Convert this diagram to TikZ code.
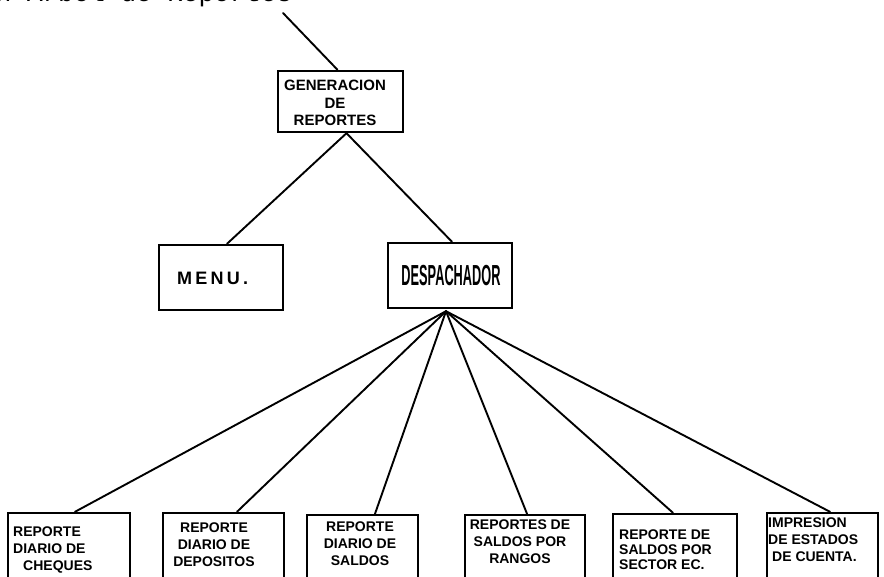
\documentclass[tikz,border=0pt]{standalone}
\usepackage{fontspec}
\usepackage{graphicx}
\setmainfont{Liberation Sans}
\newfontfamily\typedfont{Liberation Mono}

\begin{document}
\begin{tikzpicture}[x=1pt,y=-1pt,
  box/.style={draw, line width=2.4pt, rectangle, inner sep=0pt},
  wire/.style={line width=1.9pt, line cap=round},
  lbl/.style={inner sep=0pt, font=\bfseries\fontsize{14}{17}\selectfont},
  toplbl/.style={inner sep=0pt, font=\bfseries\fontsize{15}{17.5}\selectfont},
]
\useasboundingbox (0,0) rectangle (884,576);

% typed heading line, only its lower edge lies on the sheet
\node[inner sep=0pt, anchor=base west, font=\typedfont\fontsize{26}{26}\selectfont]
  (heading) at (-20,1) {ón Arbol de Reportes};

% boxes
\node[box, minimum width=125pt, minimum height=61pt] (gen)  at (340.5,101.5) {};
\node[box, minimum width=124pt, minimum height=65pt] (menu) at (221,277.5) {};
\node[box, minimum width=124pt, minimum height=65pt] (desp) at (450,275.5) {};

\node[box, minimum width=122pt, minimum height=80pt] (b1) at (69,553) {};
\node[box, minimum width=121pt, minimum height=80pt] (b2) at (223.5,553) {};
\node[box, minimum width=111pt, minimum height=80pt] (b3) at (362.5,555) {};
\node[box, minimum width=120pt, minimum height=80pt] (b4) at (525,555) {};
\node[box, minimum width=124pt, minimum height=80pt] (b5) at (675,554) {};
\node[box, minimum width=111pt, minimum height=80pt] (b6) at (822.5,553) {};

% box texts
\node[toplbl, align=center, anchor=north] (genT) at (335,80)
  {GENERACION\\DE\\REPORTES};
\node[inner sep=0pt, anchor=west, font=\bfseries\fontsize{18}{18}\selectfont\addfontfeature{LetterSpace=18}]
  (menuT) at (177,278.5) {MENU.};
\node[inner sep=0pt, font=\bfseries\fontsize{29}{29}\selectfont]
  (despT) at (451,276) {\scalebox{0.44}[1]{DESPACHADOR}};

\node[lbl, align=left, anchor=north west] (b1T) at (13,527)
  {REPORTE\\DIARIO DE\\\hspace*{10pt}CHEQUES};
\node[lbl, align=center, anchor=north] (b2T) at (214,523)
  {REPORTE\\DIARIO DE\\DEPOSITOS};
\node[lbl, align=center, anchor=north] (b3T) at (360,522)
  {REPORTE\\DIARIO DE\\SALDOS};
\node[lbl, align=center, anchor=north] (b4T) at (520,520)
  {REPORTES DE\\SALDOS POR\\RANGOS};
\node[lbl, align=left, anchor=north west, font=\bfseries\fontsize{14}{15}\selectfont] (b5T) at (619,530)
  {REPORTE DE\\SALDOS POR\\SECTOR EC.};
\node[lbl, align=left, anchor=north west] (b6T) at (768,518)
  {IMPRESION\\DE ESTADOS\\\hspace*{4pt}DE CUENTA.};

% connectors
\coordinate (in) at (283,13);
\coordinate (fan) at ([xshift=-4pt,yshift=-2pt]desp.south);
\draw[wire] (in) -- ([xshift=-3pt]gen.north);
\draw[wire] ([xshift=6pt]gen.south) -- ([xshift=6pt]menu.north);
\draw[wire] ([xshift=6pt]gen.south) -- ([xshift=2pt]desp.north);
\draw[wire] (fan) -- ([xshift=6pt]b1.north);
\draw[wire] (fan) -- ([xshift=13.5pt]b2.north);
\draw[wire] (fan) -- ([xshift=12.5pt]b3.north);
\draw[wire] (fan) -- ([xshift=2pt]b4.north);
\draw[wire] (fan) -- ([xshift=-2pt]b5.north);
\draw[wire] (fan) -- ([xshift=7.5pt]b6.north);
\end{tikzpicture}
\end{document}
